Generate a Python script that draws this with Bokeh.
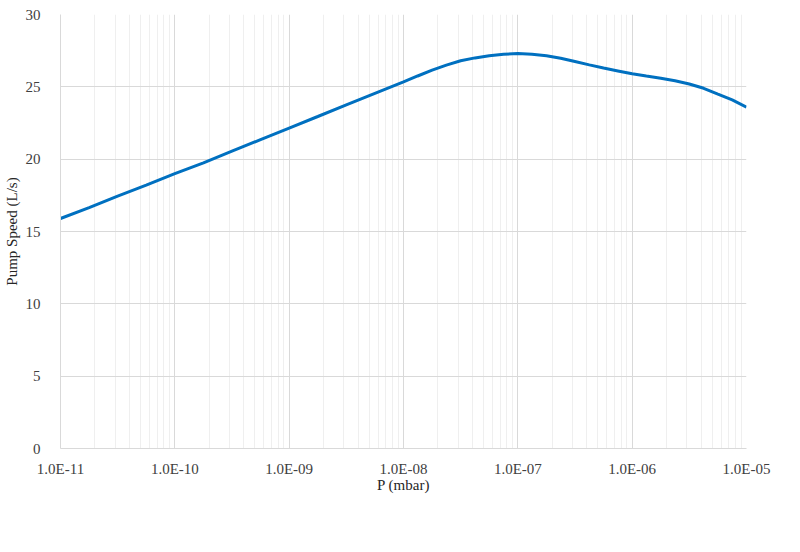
from bokeh.plotting import figure
from bokeh.models import FixedTicker, CustomJSTickFormatter, Range1d
from bokeh.embed import file_html
from bokeh.resources import INLINE

# Data
pressure_mbar = [
    1e-11, 1.78e-11, 3.16e-11, 5.62e-11,
    1e-10, 1.78e-10, 3.16e-10, 5.62e-10,
    1e-9, 1.78e-9, 3.16e-9, 5.62e-9,
    1e-8, 1.33e-8, 1.78e-8, 2.37e-8, 3.16e-8, 4.22e-8, 5.62e-8, 7.50e-8,
    1e-7, 1.33e-7, 1.78e-7, 2.37e-7, 3.16e-7, 4.22e-7, 5.62e-7, 7.50e-7,
    1e-6, 1.33e-6, 1.78e-6, 2.37e-6, 3.16e-6, 4.22e-6, 5.62e-6, 7.50e-6,
    1e-5,
]
pump_speed = [
    15.9, 16.65, 17.45, 18.2,
    19.0, 19.75, 20.55, 21.35,
    22.15, 22.95, 23.75, 24.55,
    25.35, 25.75, 26.15, 26.5, 26.8, 27.0, 27.15, 27.25,
    27.3, 27.25, 27.15, 26.97, 26.75, 26.52, 26.3, 26.1,
    25.9, 25.75, 25.6, 25.42, 25.2, 24.9, 24.5, 24.1,
    23.6,
]
x_major_ticks = [1e-11, 1e-10, 1e-9, 1e-8, 1e-7, 1e-6, 1e-5]
x_minor_mult = [2, 3, 4, 5, 6, 7, 8, 9]
y_ticks = [0, 5, 10, 15, 20, 25, 30]

FONT = "Liberation Serif"

p = figure(
    x_axis_type="log",
    frame_width=686, frame_height=434,
    min_border_left=53, min_border_top=14, min_border_right=45, min_border_bottom=60,
    output_backend="svg", toolbar_location=None,
    x_range=Range1d(1e-11, 1e-5), y_range=Range1d(0, 30),
)
p.outline_line_color = None
p.background_fill_color = "white"

minor = [m * t for t in x_major_ticks[:-1] for m in x_minor_mult]
p.xaxis.ticker = FixedTicker(ticks=x_major_ticks, minor_ticks=minor)
p.yaxis.ticker = FixedTicker(ticks=y_ticks)

p.xaxis.formatter = CustomJSTickFormatter(code="""
const e = Math.round(Math.log10(tick));
const s = Math.abs(e).toString().padStart(2, '0');
return '1.0E' + (e < 0 ? '-' : '+') + s;
""")

for ax in (p.xaxis[0], p.yaxis[0]):
    ax.major_tick_line_color = None
    ax.minor_tick_line_color = None
    ax.axis_line_color = "#D9D9D9"
    ax.major_label_text_font = FONT
    ax.major_label_text_font_size = "15px"
    ax.major_label_text_color = "#404040"
    ax.axis_label_text_font = FONT
    ax.axis_label_text_font_size = "15px"
    ax.axis_label_text_font_style = "normal"
    ax.axis_label_text_color = "#262626"

p.xaxis.axis_label = "P (mbar)"
p.yaxis.axis_label = "Pump Speed (L/s)"
p.xaxis.major_label_standoff = 6
p.xaxis.axis_label_standoff = -3
p.yaxis.major_label_standoff = 14
p.yaxis.axis_label_standoff = 3

p.xgrid.grid_line_color = "#D9D9D9"
p.xgrid.minor_grid_line_color = "#EFEFEF"
p.ygrid.grid_line_color = "#D9D9D9"

p.line(pressure_mbar, pump_speed, line_color="#0070C0", line_width=3)

open("out.html", "w").write(file_html(p, INLINE))
